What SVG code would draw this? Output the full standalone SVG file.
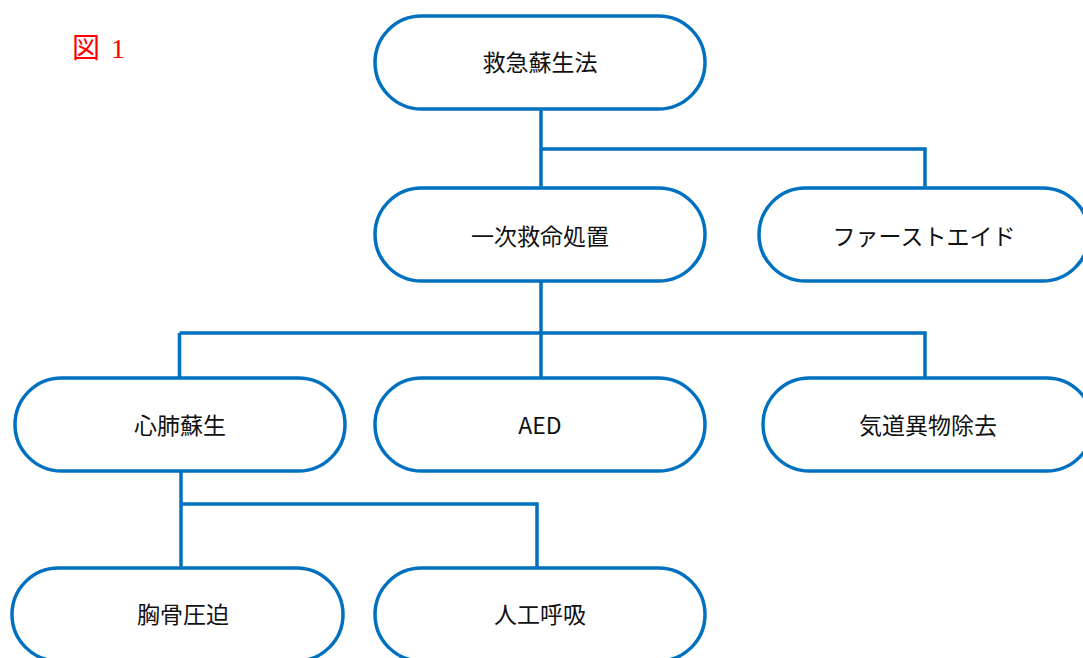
<svg xmlns="http://www.w3.org/2000/svg" width="1083" height="658" viewBox="0 0 1083 658">
<style>
.node rect{fill:#FFFFFF;stroke:#0070C0;stroke-width:3.5}
.node text{font-family:"Noto Sans CJK JP","Noto Sans",sans-serif;font-size:23px;fill:#111111;text-anchor:middle}
#connectors path{fill:none;stroke:#0070C0;stroke-width:3.5}
.title{font-family:"Liberation Serif","Noto Sans CJK JP",serif;font-size:28px;fill:#FF0000;word-spacing:4px}
</style>
<rect width="1083" height="658" fill="#FFFFFF"/>
<text class="title" x="72" y="58">図 1</text>
<g id="connectors">
<path d="M541 108 V188"/>
<path d="M541 149 H925 V188"/>
<path d="M541 281 V378"/>
<path d="M179.5 333 H925 V378"/>
<path d="M179.5 333 V378"/>
<path d="M181 471 V568"/>
<path d="M181 504 H537 V568"/>
</g>
<g id="n1" class="node"><rect x="375" y="16" width="330" height="93" rx="46.5"/><text x="540" y="71">救急蘇生法</text></g>
<g id="n2" class="node"><rect x="375" y="188" width="330" height="93" rx="46.5"/><text x="540" y="245">一次救命処置</text></g>
<g id="n3" class="node"><rect x="759" y="188" width="330" height="93" rx="46.5"/><text x="924" y="245">ファーストエイド</text></g>
<g id="n4" class="node"><rect x="15" y="378" width="330" height="93" rx="46.5"/><text x="180" y="434">心肺蘇生</text></g>
<g id="n5" class="node"><rect x="375" y="378" width="330" height="93" rx="46.5"/><text x="540" y="434">AED</text></g>
<g id="n6" class="node"><rect x="763" y="378" width="330" height="93" rx="46.5"/><text x="928" y="434">気道異物除去</text></g>
<g id="n7" class="node"><rect x="12" y="568" width="331" height="93" rx="46.5"/><text x="183" y="623">胸骨圧迫</text></g>
<g id="n8" class="node"><rect x="375" y="568" width="330" height="93" rx="46.5"/><text x="540" y="623">人工呼吸</text></g>
</svg>
